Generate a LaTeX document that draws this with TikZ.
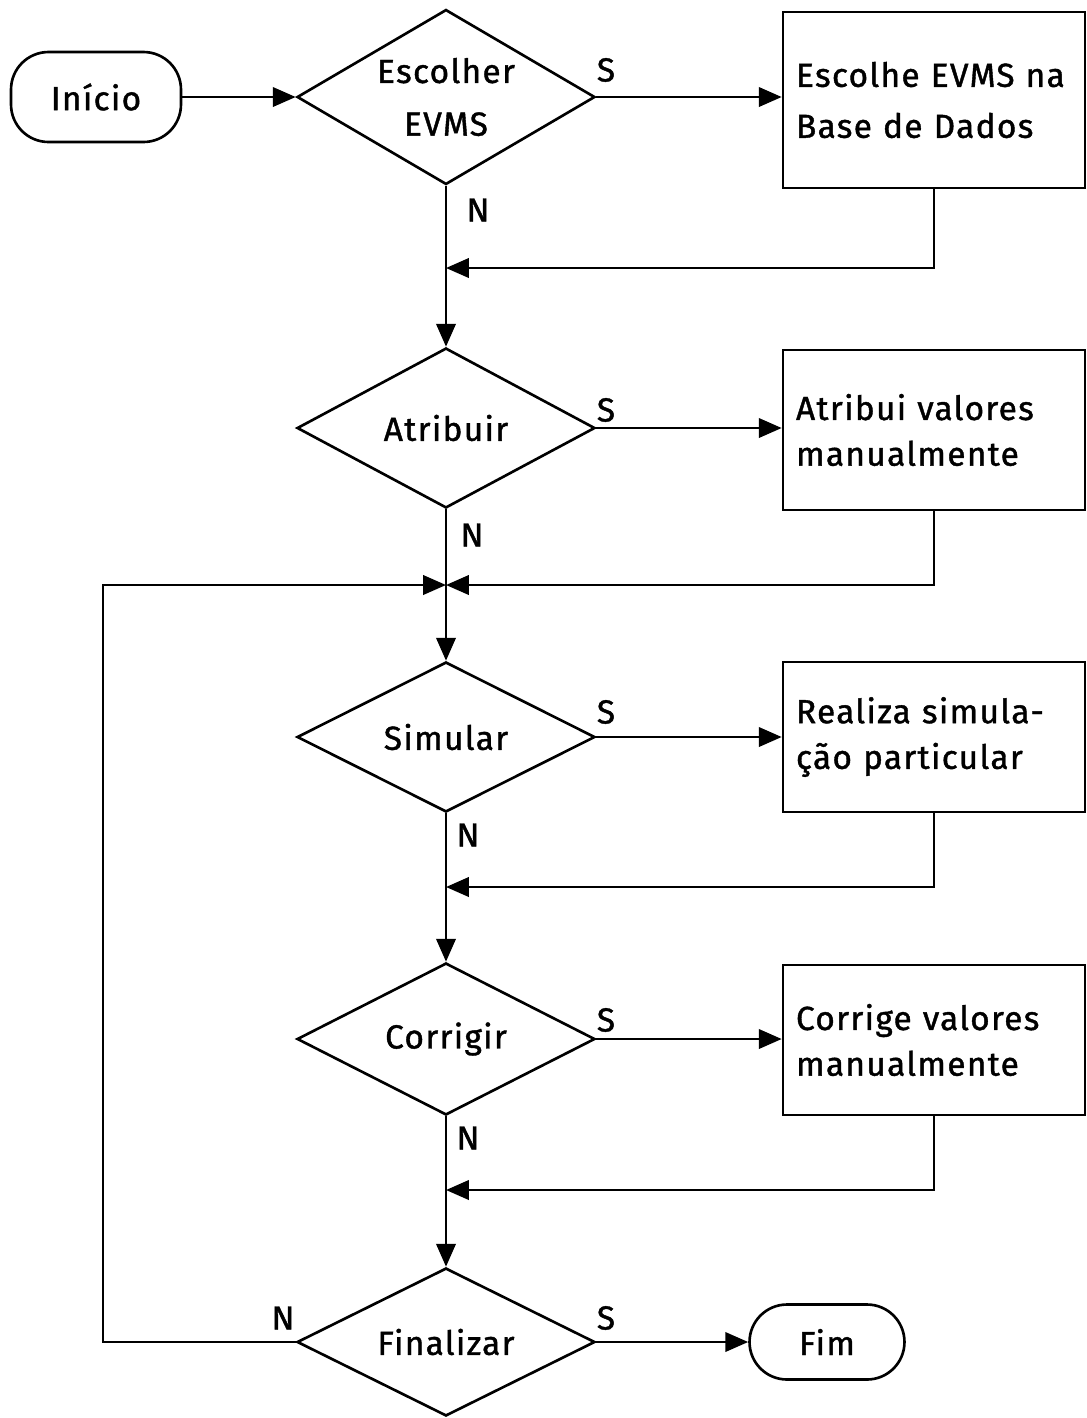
\documentclass[tikz,border=0pt]{standalone}
\usepackage{fontspec}
\setmainfont[LetterSpace=4,FakeBold=1.2]{Fira Sans}
\usetikzlibrary{shapes.geometric,arrows.meta}
\begin{document}
\begin{tikzpicture}[x=0.02cm,y=-0.02cm,
  font=\fontsize{19}{26}\selectfont,
  line width=1.5pt,
  arr/.style={-{Triangle[length=13pt,width=11pt]}},
  decision/.style={diamond, draw, aspect=1.7, inner sep=0pt, minimum width=5.96cm, align=center},
  action/.style={rectangle, draw, inner xsep=0.26cm, text width=5.52cm, align=left},
  terminal/.style={rectangle, draw, rounded corners=0.75cm, minimum width=3.4cm},
  lbl/.style={inner sep=0pt}
]
\useasboundingbox (0,0) rectangle (1087,1418);

% start and end
\node[terminal, minimum height=1.8cm] (start) at (96,97) {Início};
\node[terminal, minimum width=3.1cm, minimum height=1.5cm] (fin) at (827,1342) {Fim};

% decisions
\node[decision, minimum height=3.5cm] (d1) at (446,97) {Escolher\\[4pt]EVMS};
\node[decision, minimum height=3.2cm] (d2) at (446,428) {Atribuir};
\node[decision, minimum height=3.0cm] (d3) at (446,737) {Simular};
\node[decision, minimum height=3.04cm] (d4) at (446,1039) {Corrigir};
\node[decision, minimum height=2.96cm] (d5) at (446,1342) {Finalizar};

% actions
\node[action, minimum height=3.52cm] (b1) at (934,100) {Escolhe EVMS na\\[3pt]Base de Dados};
\node[action, minimum height=3.2cm] (b2) at (934,430) {Atribui valores\\manualmente};
\node[action, minimum height=3.0cm] (b3) at (934,737) {Realiza simula-\\ção particular};
\node[action, minimum height=3.0cm] (b4) at (934,1040) {Corrige valores\\manualmente};

% junction points on the main line
\coordinate (j1) at (446,268);
\coordinate (j2) at (446,585);
\coordinate (j3) at (446,887);
\coordinate (j4) at (446,1190);
\coordinate (lc) at (103,585);

% main flow
\draw[arr] (start.east) -- (d1.west);
\draw[arr] (d1.south) -- (d2.north);
\draw[arr] (d2.south) -- (d3.north);
\draw[arr] (d3.south) -- (d4.north);
\draw[arr] (d4.south) -- (d5.north);

% yes branches
\draw[arr] (d1.east) -- (d1.east -| b1.west);
\draw[arr] (d2.east) -- (d2.east -| b2.west);
\draw[arr] (d3.east) -- (d3.east -| b3.west);
\draw[arr] (d4.east) -- (d4.east -| b4.west);
\draw[arr] (d5.east) -- (fin.west);

% returns to the main line
\draw[arr] (b1.south) |- (j1);
\draw[arr] (b2.south) |- (j2);
\draw[arr] (b3.south) |- (j3);
\draw[arr] (b4.south) |- (j4);

% loop back from Finalizar
\draw[arr] (d5.west) -| (lc) -- (j2);

% branch labels
\node[lbl] (s1) at (606,70) {S};
\node[lbl] (s2) at (606,410) {S};
\node[lbl] (s3) at (606,712) {S};
\node[lbl] (s4) at (606,1020) {S};
\node[lbl] (s5) at (606,1318) {S};
\node[lbl] (n1) at (478,210) {N};
\node[lbl] (n2) at (472,535) {N};
\node[lbl] (n3) at (468,835) {N};
\node[lbl] (n4) at (468,1138) {N};
\node[lbl] (n5) at (283,1318) {N};
\end{tikzpicture}
\end{document}
